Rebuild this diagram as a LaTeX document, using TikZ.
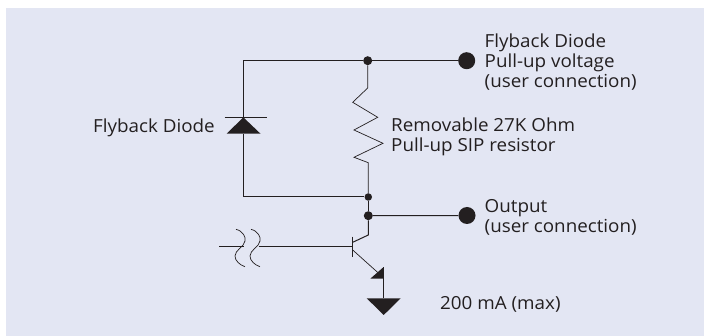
\documentclass[tikz,border=0pt]{standalone}
\usepackage{fontspec}
\setmainfont[FakeStretch=1.045]{Open Sans}
\definecolor{panel}{HTML}{E3E6F3}
\definecolor{ink}{HTML}{231F20}
\tikzset{
  wire/.style={draw=ink,line width=1pt},
  thin wire/.style={draw=ink,line width=.7pt},
  solid part/.style={fill=ink,draw=none},
  junction/.style={circle,fill=ink,inner sep=0pt,minimum size=9pt},
  terminal/.style={circle,fill=ink,inner sep=0pt,minimum size=17pt},
  label/.style={text=ink,inner sep=0pt,align=left,font=\fontsize{18}{20}\selectfont}
}
\begin{document}
\begin{tikzpicture}[x=1pt,y=-1pt]
\useasboundingbox (0,0) rectangle (704,336);
\fill[white] (0,0) rectangle (704,336);
\fill[panel] (6,8) rectangle (704,336);

\node[junction] (jt) at (367.7,60.7) {};
\node[terminal] (tt) at (466.7,60.7) {};
\node[junction,minimum size=7.5pt] (jb) at (368.3,197) {};
\node[junction] (jo) at (368.3,215.7) {};
\node[terminal] (to) at (467,215.5) {};
\coordinate (tl) at (243.3,60.7);
\coordinate (bl) at (243.3,197);
\coordinate (da) at (243.3,117.3);
\coordinate (db) at (243.3,133.7);

\draw[wire] (tt) -- (jt) -- (tl) -- (da);
\draw[wire] (db) -- (bl) -- (jb);
\fill[solid part] (da) -- (260.5,133.7) -- (226.7,133.7) -- cycle;
\draw[thin wire] (224.5,117.3) -- (266.5,117.3);

\draw[thin wire,line join=miter] (jt) -- (367.7,88) -- (352.7,102.3) -- (377.7,117.3) -- (354,130) -- (383,143.3) -- (354,157.3) -- (368.3,162.7) -- (jb);
\draw[wire] (jb) -- (jo);
\draw[wire] (jo) -- (to);

\draw[wire] (jo) -- (368.3,235) -- (352.7,242.3);
\draw[wire] (352.7,236.7) -- (352.7,256.7);
\draw[thin wire] (219,246.7) -- (243.5,246.7);
\draw[thin wire] (258.5,246.7) -- (352.7,246.7);
\draw[thin wire] (236,229.3) .. controls (243,231) and (246,237) .. (245,241) .. controls (244,247) and (235,250) .. (235,256) .. controls (235,261) and (240,265) .. (245,266.7);
\draw[thin wire] (251,229.3) .. controls (258,231) and (261,237) .. (260,241) .. controls (259,247) and (250,250) .. (250,256) .. controls (250,261) and (255,265) .. (260,266.7);

\draw[thin wire] (352.7,250) -- (378,272.7);
\fill[solid part] (383.3,267.3) -- (383.3,278.7) -- (370.3,278.7) -- cycle;
\draw[thin wire] (383.3,267.3) -- (383.3,298.3);
\fill[solid part] (366.7,298.3) -- (400.7,298.3) -- (383.7,315) -- cycle;

\node[label,anchor=base east] (l1) at (215,132.3) {Flyback Diode};
\node[label,anchor=west] (l2) at (391,137) {Removable 27K Ohm\\Pull-up SIP resistor};
\node[label,anchor=west] (l3) at (484.5,62) {Flyback Diode\\Pull-up voltage\\(user connection)};
\node[label,anchor=west] (l4) at (484.5,217) {Output\\(user connection)};
\node[label,anchor=base west] (l5) at (440,310) {200 mA (max)};
\end{tikzpicture}
\end{document}
